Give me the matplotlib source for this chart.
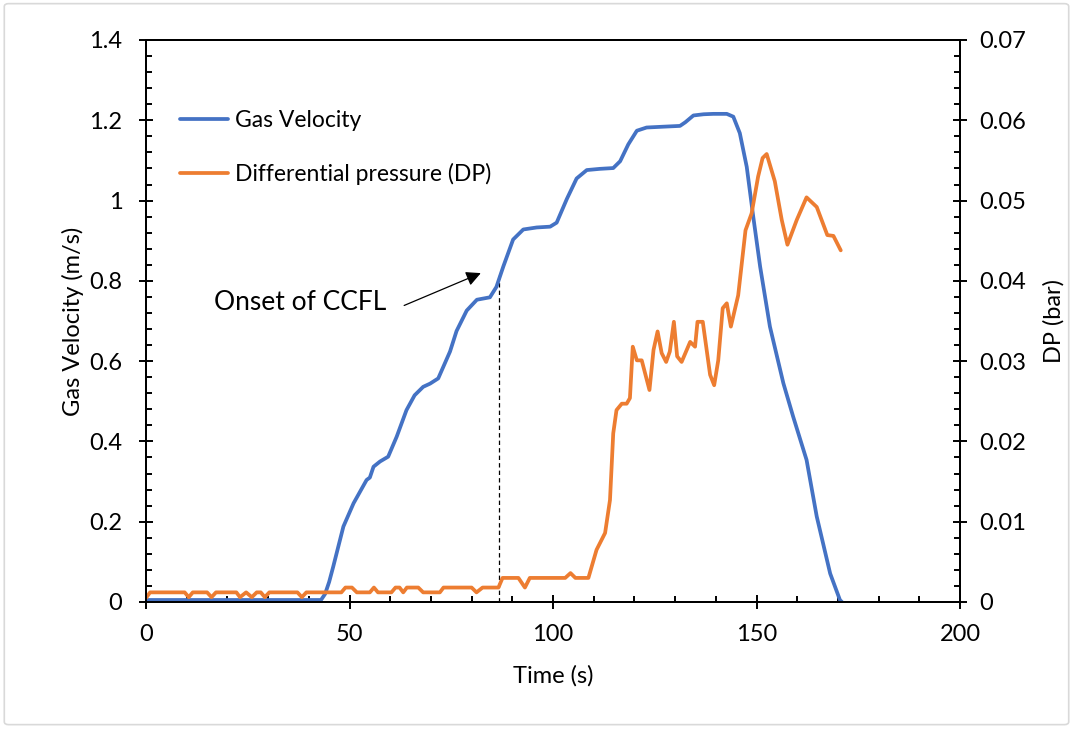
import matplotlib
matplotlib.use('Agg')
import matplotlib.pyplot as plt
from matplotlib.ticker import MultipleLocator, FuncFormatter
from matplotlib.patches import FancyBboxPatch

plt.rcParams['font.family'] = ['Lato', 'DejaVu Sans']

# Gas velocity (m/s) vs time (s)
gas_t = [0, 20, 43, 44, 45, 46, 48.5, 51, 54.2, 55, 55.9, 57.5, 59.5, 61.6, 64, 66,
         68.1, 69.8, 71.8, 74.7, 76.3, 78.8, 81.3, 84.5, 86.1, 87.8, 90.2, 92.7, 96,
         99.3, 100.9, 103.4, 105.8, 108.3, 111.5, 114.8, 116.5, 118.5, 120.6, 123,
         127, 131.2, 132.5, 134.5, 137, 139.4, 142.7, 144.3, 145.9, 147.6, 149.2,
         150.9, 153.3, 156.6, 159, 162.3, 164.8, 168.1, 170.5, 171]
gas_v = [0.005, 0.005, 0.005, 0.02, 0.05, 0.088, 0.188, 0.246, 0.304, 0.31, 0.337, 0.35,
         0.362, 0.412, 0.478, 0.515, 0.536, 0.544, 0.557, 0.624, 0.675, 0.726, 0.753,
         0.759, 0.785, 0.836, 0.903, 0.928, 0.933, 0.935, 0.945, 1.004, 1.055, 1.076,
         1.079, 1.081, 1.098, 1.14, 1.174, 1.182, 1.184, 1.186, 1.195, 1.212, 1.215,
         1.216, 1.216, 1.209, 1.168, 1.084, 0.96, 0.835, 0.686, 0.545, 0.462, 0.354,
         0.213, 0.071, 0.005, 0.0]

# Differential pressure (bar) vs time (s)
dp_t = [0, 1, 9.5, 10.5, 11.5, 15, 16.1, 17.2, 22.2, 23.1, 24.6, 26, 27.2, 28.2, 29.2,
        30.3, 37.2, 38.3, 39.4, 48, 49, 50.6, 51.8, 55, 56, 57, 60.3, 61.3, 62.3, 63.2,
        64.1, 66.9, 68.1, 72.2, 73.1, 80, 81.2, 82.7, 86.6, 87.6, 91.5, 93.1, 94.3,
        103, 104.3, 105.5, 108.7, 110.7, 112.8, 114, 114.8, 115.6, 116.9, 118.1, 118.9,
        119.6, 120.6, 121.8, 123.7, 124.7, 125.7, 126.7, 127.8, 128.7, 129.7, 130.5,
        131.6, 133.7, 134.9, 135.5, 136.8, 138.6, 139.6, 140.6, 141.7, 142.7, 143.7,
        145.5, 147.3, 148.8, 150.4, 151.5, 152.5, 154.5, 156.2, 157.6, 159.9, 162.3,
        164.8, 167.4, 168.9, 170.7]
dp_v = [0.0005, 0.0012, 0.0012, 0.0006, 0.0012, 0.0012, 0.0006, 0.0012, 0.0012, 0.0006,
        0.0012, 0.0006, 0.0012, 0.0012, 0.0006, 0.0012, 0.0012, 0.0006, 0.0012, 0.0012,
        0.0018, 0.0018, 0.0012, 0.0012, 0.0018, 0.0012, 0.0012, 0.0018, 0.0018, 0.0012,
        0.0018, 0.0018, 0.0012, 0.0012, 0.0018, 0.0018, 0.0012, 0.0018, 0.0018, 0.003,
        0.003, 0.0018, 0.003, 0.003, 0.0036, 0.003, 0.003, 0.0065, 0.0086, 0.0127,
        0.021, 0.0239, 0.0247, 0.0247, 0.0254, 0.0318, 0.0301, 0.0301, 0.0264, 0.0314,
        0.0337, 0.031, 0.0299, 0.0312, 0.0349, 0.0306, 0.0299, 0.0324, 0.0318, 0.0349,
        0.0349, 0.0283, 0.027, 0.0301, 0.0366, 0.0372, 0.0343, 0.0382, 0.0463, 0.0484,
        0.053, 0.0553, 0.0558, 0.0524, 0.0476, 0.0445, 0.0476, 0.0504, 0.0492, 0.0457,
        0.0456, 0.0438]

onset_t = 86.8
onset_v = 0.822

BLUE = '#4472C4'
ORANGE = '#ED7D31'
FS = 17


def fmt(x, pos):
    return '%g' % round(x, 4)


fig = plt.figure(figsize=(10.73, 7.29), dpi=100)
fig.patches.append(FancyBboxPatch((0.004, 0.006), 0.992, 0.989, boxstyle='round,pad=0,rounding_size=0.004',
                                  transform=fig.transFigure, facecolor='white', edgecolor='#D9D9D9',
                                  linewidth=1.2, zorder=-5))
ax = fig.add_axes([146 / 1073, 1 - 602 / 729, 814 / 1073, 562 / 729])
ax2 = ax.twinx()

l1, = ax.plot(gas_t, gas_v, color=BLUE, lw=2.7, label='Gas Velocity', zorder=3,
              solid_joinstyle='round', solid_capstyle='round')
l2, = ax2.plot(dp_t, dp_v, color=ORANGE, lw=2.7, label='Differential pressure (DP)',
               solid_joinstyle='round', solid_capstyle='round')

ax.plot([onset_t, onset_t], [0, onset_v], color='black', lw=0.9, ls=(0, (3.5, 2.5)))
ax.annotate('', xy=(82.9, onset_v), xytext=(62.8, 0.736),
            arrowprops=dict(arrowstyle='-|>', color='black', lw=0.9, mutation_scale=22))
ax.text(37.9, 0.745, 'Onset of CCFL', fontsize=19, ha='center', va='center')

ax.set_xlim(0, 200)
ax.set_ylim(0, 1.4)
ax2.set_ylim(0, 0.07)
ax.xaxis.set_major_locator(MultipleLocator(50))
ax.xaxis.set_minor_locator(MultipleLocator(10))
ax.yaxis.set_major_locator(MultipleLocator(0.2))
ax.yaxis.set_minor_locator(MultipleLocator(0.04))
ax2.yaxis.set_major_locator(MultipleLocator(0.01))
ax2.yaxis.set_minor_locator(MultipleLocator(0.002))
ax.yaxis.set_major_formatter(FuncFormatter(fmt))
ax2.yaxis.set_major_formatter(FuncFormatter(fmt))

for a in (ax, ax2):
    for s in a.spines.values():
        s.set_linewidth(1.4)
    a.tick_params(which='major', direction='inout', length=10, width=1.4, labelsize=FS)
    a.tick_params(which='minor', direction='in', length=4.5, width=1.4)
ax.tick_params(axis='y', which='major', pad=12)
ax.tick_params(axis='x', which='major', pad=11)
ax2.tick_params(axis='y', which='major', pad=9)

ax.set_xlabel('Time (s)', fontsize=FS, labelpad=14)
ax.set_ylabel('Gas Velocity (m/s)', fontsize=FS, labelpad=4)
ax2.set_ylabel('DP (bar)', fontsize=FS, labelpad=12)

ax.legend(handles=[l1, l2], loc='upper left', bbox_to_anchor=(0.0418, 0.876), frameon=False,
          fontsize=16.5, handlelength=2.1, handletextpad=0.3, labelspacing=1.42,
          borderpad=0, borderaxespad=0)

fig.savefig('out.png', dpi=100)
